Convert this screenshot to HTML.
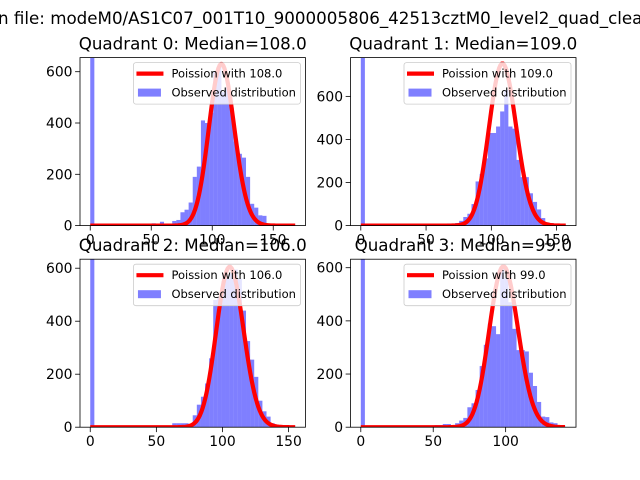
<!DOCTYPE html>
<html><head><meta charset="utf-8"><style>
body{margin:0;background:#fff}
svg{display:block;font-family:"DejaVu Sans","Liberation Sans",sans-serif}
</style></head><body>
<svg id="fig" width="640" height="480" viewBox="0 0 640 480">
<text x="-2" y="24" font-size="16.7" fill="#000">n file: modeM0/AS1C07_001T10_9000005806_42513cztM0_level2_quad_clean.evt</text>
</svg>
<script>
const titles=["Quadrant 0: Median=108.0","Quadrant 1: Median=109.0","Quadrant 2: Median=106.0","Quadrant 3: Median=99.0"];
const medians=[108,109,106,99];
const dataMax=[168,157,155,141.5];
const yMax=[655,780,634,632];
const yTicks=[[0,200,400,600],[0,200,400,600],[0,200,400,600],[0,200,400,600]];
const xTicks=[[0,50,100,150],[0,50,100,150],[0,50,100,150],[0,50,100]];
const curvePeak=[630,752,605,605];
const counts0=[3000,0,0,0,0,0,0,0,0,0,0,0,0,0,0,9,5,15,3,8,18,22,52,62,90,190,230,410,400,440,600,620,520,540,460,328,280,265,190,85,70,40,38,8,3,3,3,2,2,2];
const counts1=[3000,0,0,0,0,0,0,0,0,0,0,0,0,0,0,5,5,5,5,5,8,10,8,12,22,40,55,100,205,240,312,430,430,460,530,630,460,450,305,225,225,150,110,75,35,15,12,4,4,4];
const counts2=[3000,0,0,0,0,0,0,0,0,0,0,0,0,0,0,0,0,0,0,0,15,15,15,15,12,45,85,115,165,260,480,490,550,560,580,595,560,440,325,255,190,100,60,40,15,8,3,3,3,3];
const counts3=[3000,0,0,0,0,0,0,0,0,0,0,0,0,0,0,0,0,0,8,8,12,12,3,15,25,35,75,90,140,230,310,390,380,350,600,560,470,370,290,290,285,205,155,95,40,38,18,15,5,2];
const allCounts=[counts0,counts1,counts2,counts3];

const NS="http://www.w3.org/2000/svg";
const svg=document.getElementById('fig');
function mk(tag,attrs,parent){const e=document.createElementNS(NS,tag);for(const k in attrs)e.setAttribute(k,attrs[k]);(parent||svg).appendChild(e);return e;}
const W=225.45,H=168;
const lefts=[80,350.55,80,350.55],tops=[57.6,57.6,259.2,259.2];
function lgam(n){let s=0;for(let i=2;i<=n;i++)s+=Math.log(i);return s;}
for(let q=0;q<4;q++){
  const L=lefts[q],T=tops[q],B=T+H,R=L+W;
  const m=dataMax[q]*0.05;
  const x=v=>L+(v+m)/(dataMax[q]+2*m)*W;
  const y=v=>B-v/yMax[q]*H;
  const g=mk('g',{});
  
  
  const cp=mk('clipPath',{id:'cp'+q},g);mk('rect',{x:L,y:T,width:W,height:H},cp);
  const plot=mk('g',{'clip-path':'url(#cp'+q+')'},g);
  const bw=dataMax[q]/50;
  allCounts[q].forEach((c,i)=>{
    if(c<=0)return;
    const r=mk('rect',{x:x(i*bw),y:y(c),width:x((i+1)*bw)-x(i*bw),height:B-y(c),fill:'#0000ff','fill-opacity':0.5},plot);
    
    
  });
  const mu=medians[q];const kmax=Math.floor(dataMax[q]);
  const pk=Math.exp(Math.floor(mu)*Math.log(mu)-mu-lgam(Math.floor(mu)));
  let d='';
  for(let k=0;k<=kmax;k++){const p=Math.exp(k*Math.log(mu)-mu-lgam(k))/pk*curvePeak[q];d+=(k?'L':'M')+x(k).toFixed(2)+','+y(p).toFixed(2);}
  const ln=mk('path',{d:d,fill:'none',stroke:'#ff0000','stroke-width':4.2,'stroke-linejoin':'round'},plot);
  
  
  const fr=mk('rect',{x:L,y:T,width:W,height:H,fill:'none',stroke:'#000','stroke-width':0.8},g);
  
  
  xTicks[q].forEach(v=>{
    mk('line',{x1:x(v),x2:x(v),y1:B,y2:B+4.9,stroke:'#000','stroke-width':0.8},g);
    const t=mk('text',{x:x(v),y:B+19,'font-size':13.9,'text-anchor':'middle'},g);t.textContent=v;
    
    
  });
  yTicks[q].forEach(v=>{
    mk('line',{x1:L-4.9,x2:L,y1:y(v),y2:y(v),stroke:'#000','stroke-width':0.8},g);
    const t=mk('text',{x:L-7.5,y:y(v)+5,'font-size':13.9,'text-anchor':'end'},g);t.textContent=v;
    
    
  });
  const tt=mk('text',{x:L+W/2,y:T-8,'font-size':16.7,'text-anchor':'middle'},g);tt.textContent=titles[q];
  
  
  const lg=mk('g',{},g);
  
  
  const lx=R-172,ly=T+5;
  mk('rect',{x:lx,y:ly,width:167,height:41.5,rx:2.5,fill:'#fff','fill-opacity':0.8,stroke:'#cccccc','stroke-width':0.8},lg);
  mk('line',{x1:lx+3,x2:lx+30,y1:ly+11,y2:ly+11,stroke:'#ff0000','stroke-width':4.2},lg);
  const t1=mk('text',{x:lx+38,y:ly+15,'font-size':11.5},lg);t1.textContent='Poission with '+medians[q].toFixed(1);
  
  
  mk('rect',{x:lx+4.5,y:ly+26,width:23,height:8,fill:'#0000ff','fill-opacity':0.5},lg);
  const t2=mk('text',{x:lx+38,y:ly+34,'font-size':11.5},lg);t2.textContent='Observed distribution';
  
  
}
</script>
</body></html>
